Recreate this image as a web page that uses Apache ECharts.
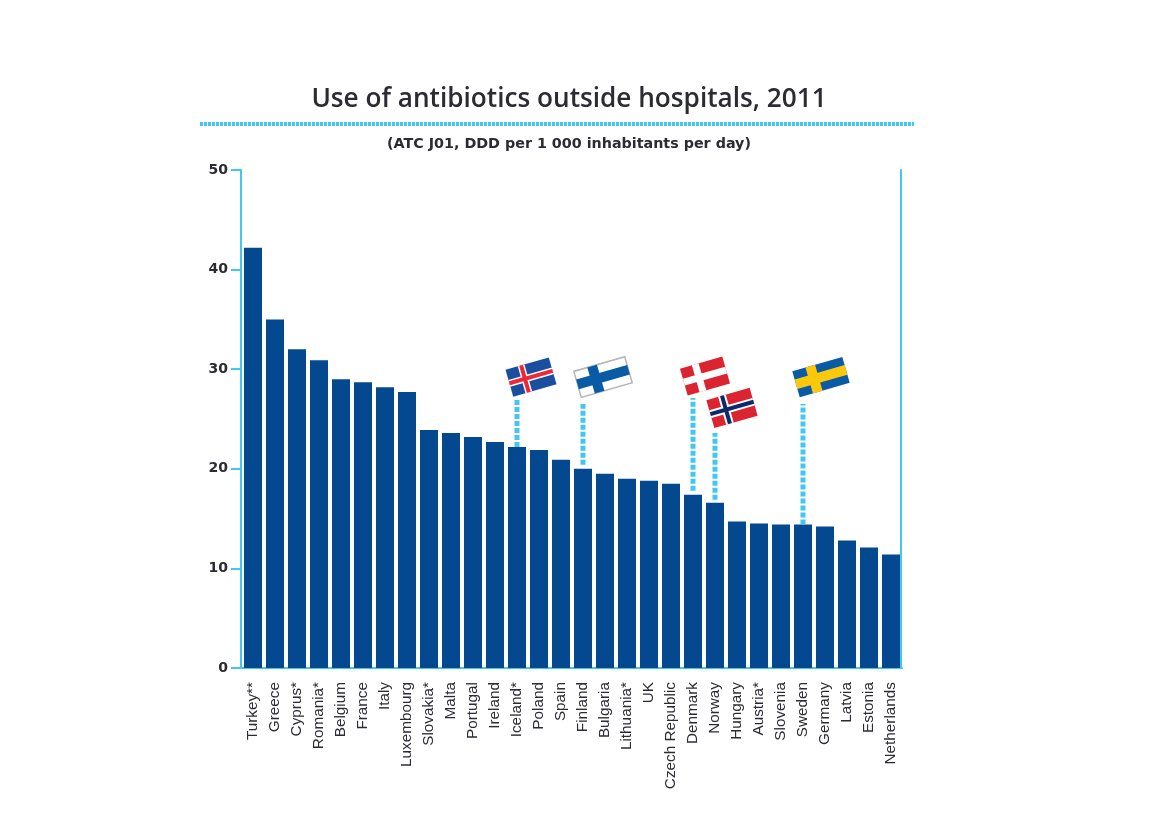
<!DOCTYPE html>
<html>
<head>
<meta charset="utf-8">
<title>Use of antibiotics outside hospitals, 2011</title>
<script src="https://cdn.jsdelivr.net/npm/echarts@6/dist/echarts.min.js"></script>
<style>
html, body { margin: 0; padding: 0; background: #fff; }
#chart { width: 1169px; height: 826px; }
</style>
</head>
<body>
<div id="chart"></div>
<script>
var countries = ['Turkey**','Greece','Cyprus*','Romania*','Belgium','France','Italy','Luxembourg','Slovakia*','Malta','Portugal','Ireland','Iceland*','Poland','Spain','Finland','Bulgaria','Lithuania*','UK','Czech Republic','Denmark','Norway','Hungary','Austria*','Slovenia','Sweden','Germany','Latvia','Estonia','Netherlands'];
var ddd = [42.2,35,32,30.9,29,28.7,28.2,27.7,23.9,23.6,23.2,22.7,22.2,21.9,20.9,20,19.5,19,18.8,18.5,17.4,16.6,14.7,14.5,14.4,14.4,14.2,12.8,12.1,11.4];

// nordic countries that get a flag on a dotted pin
var flagCountries = ['Iceland*','Finland','Denmark','Norway','Sweden'];
var pinBottom = [22.2,20.4,17.8,16.9,14.4];
var pinTop = [26.9,26.5,27.1,23.6,26.5];

var BLUE = '#04498f';
var CYAN = '#42c6f2';
var TEXT = '#2b2b33';

var flagStyles = {
    'Iceland*': {dx: 14, dy: -23, w: 45, h: 28, bg: '#1a4fa0', cross: [['#ffffff', 7], ['#ed2939', 4]]},
    'Finland': {dx: 20, dy: -27, w: 53, h: 27, bg: '#ffffff', border: '#b5b5b5', cross: [['#0a5ba5', 10]]},
    'Denmark': {dx: 12, dy: -22, w: 44, h: 28, bg: '#dc2430', cross: [['#ffffff', 7]]},
    'Norway': {dx: 17, dy: -25, w: 45, h: 29, bg: '#dc2430', cross: [['#ffffff', 8], ['#0b2a6b', 4]]},
    'Sweden': {dx: 18, dy: -27, w: 52, h: 27, bg: '#0a5ba5', cross: [['#fcc80c', 10]]}
};

function flagChildren(s) {
    var kids = [{
        type: 'rect',
        shape: {x: -s.w / 2, y: -s.h / 2, width: s.w, height: s.h},
        style: {fill: s.bg, stroke: s.border || null, lineWidth: s.border ? 1.5 : 0}
    }];
    var cx = -s.w / 2 + s.w * 0.36;
    s.cross.forEach(function(c){
        kids.push({
            type: 'rect',
            shape: {x: cx - c[1] / 2, y: -s.h / 2, width: c[1], height: s.h},
            style: {fill: c[0]}
        });
        kids.push({
            type: 'rect',
            shape: {x: -s.w / 2, y: -c[1] / 2, width: s.w, height: c[1]},
            style: {fill: c[0]}
        });
    });
    return kids;
}

function renderPin(params, api) {
    var name = flagCountries[params.dataIndex];
    var s = flagStyles[name];
    var bottom = api.coord([name, api.value(1)]);
    var top = api.coord([name, api.value(2)]);
    return {
        type: 'group',
        children: [{
            type: 'line',
            shape: {x1: bottom[0], y1: bottom[1], x2: top[0], y2: top[1]},
            style: {stroke: CYAN, lineWidth: 5, lineDash: [5, 2]}
        }, {
            type: 'group',
            x: top[0] + s.dx,
            y: top[1] + s.dy,
            rotation: 16 * Math.PI / 180,
            children: flagChildren(s)
        }]
    };
}

var pinData = flagCountries.map(function(name, i){
    return [name, pinBottom[i], pinTop[i]];
});

var option = {
    animation: false,
    backgroundColor: '#fff',
    title: [{
        text: 'Use of antibiotics outside hospitals, 2011',
        left: 564,
        top: 82,
        textAlign: 'center',
        textStyle: {fontFamily: 'Open Sans', fontSize: 26.2, fontWeight: 600, color: TEXT}
    }, {
        text: '(ATC J01, DDD per 1 000 inhabitants per day)',
        left: 564,
        top: 132,
        textAlign: 'center',
        textStyle: {fontFamily: 'DejaVu Sans', fontSize: 14.3, fontWeight: 'bold', color: TEXT}
    }],
    graphic: [{
        type: 'line',
        shape: {x1: 200, y1: 124, x2: 914, y2: 124},
        style: {stroke: CYAN, lineWidth: 4, lineDash: [3, 1]}
    }],
    grid: {left: 242, top: 170, width: 660, height: 498},
    xAxis: {
        type: 'category',
        data: countries,
        axisLine: {lineStyle: {color: CYAN, width: 2}},
        axisTick: {length: 7, alignWithLabel: false, lineStyle: {color: CYAN, width: 2}},
        axisLabel: {
            interval: 0,
            rotate: 90,
            margin: 14,
            fontFamily: 'Liberation Sans',
            fontSize: 15.3,
            color: TEXT
        }
    },
    yAxis: [{
        type: 'value',
        min: 0,
        max: 50,
        interval: 10,
        offset: 1,
        splitLine: {show: false},
        axisLine: {show: true, lineStyle: {color: CYAN, width: 2}},
        axisTick: {show: true, length: 10, lineStyle: {color: CYAN, width: 2}},
        axisLabel: {margin: 13, fontFamily: 'DejaVu Sans', fontSize: 14, fontWeight: 'bold', color: TEXT}
    }, {
        type: 'value',
        position: 'right',
        min: 0,
        max: 50,
        interval: 10,
        offset: -1,
        splitLine: {show: false},
        axisLine: {show: true, lineStyle: {color: CYAN, width: 2}},
        axisTick: {show: false},
        axisLabel: {show: false}
    }],
    series: [{
        type: 'bar',
        data: ddd,
        barWidth: 18,
        itemStyle: {color: BLUE},
        silent: true
    }, {
        type: 'custom',
        data: pinData,
        renderItem: renderPin,
        encode: {x: 0, y: 1},
        clip: false,
        silent: true,
        z: 5
    }]
};

var chart = echarts.init(document.getElementById('chart'));
chart.setOption(option);
</script>
</body>
</html>
